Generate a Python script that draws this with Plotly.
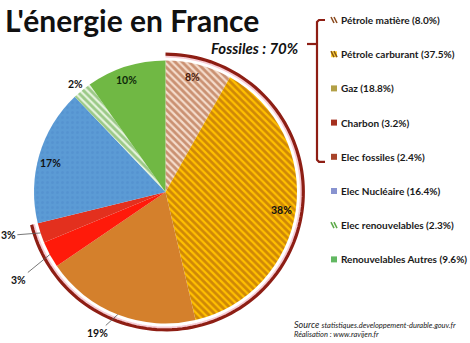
import math
import plotly.graph_objects as go

# ---------------- data ----------------
labels = ["Pétrole matière", "Pétrole carburant", "Gaz", "Charbon", "Elec fossiles",
          "Elec Nucléaire", "Elec renouvelables", "Renouvelables Autres"]
values = [8.0, 37.5, 18.8, 3.2, 2.4, 16.4, 2.3, 9.6]
pct_text = ["8%", "38%", "19%", "3%", "3%", "17%", "2%", "10%"]
is_fossil = [True, True, True, True, True, False, False, False]
fossil_text = "Fossiles : 70%"
title_text = "L'énergie en France"
source_word = "Source"
source_url = "statistiques.developpement-durable.gouv.fr"
credit_text = "Réalisation : www.ravijen.fr"

# ---------------- styles ----------------
W, H = 470, 343
CX, CY, R = 165.5, 192.0, 131.5          # pie centre / radius in pixels
slice_colors = ["#F4DCCB", "#FFC000", "#D4802C", "#FF1A0A", "#E3301E",
                "#5B9BD5", "#E6F3DD", "#70B844"]
pat_shapes = ["\\", "\\", "", "", "", ".", "\\", ""]
pat_fg = ["#A0461A", "#A0500E", "#D4802C", "#FF1A0A", "#E3301E",
          "#4F8CCB", "#4FA032", "#70B844"]
pat_solidity = [0.55, 0.55, 0.3, 0.3, 0.3, 0.3, 0.55, 0.3]
label_colors = ["#4A1A0A", "#111111", "#111111", "#111111", "#111111",
                "#111111", "#111111", "#0E2A0A"]
# label placement: radius factor and angular tweak (deg) per slice
label_rf = [0.9, 0.89, 1.19, 1.3, 1.24, 0.9, 1.07, 0.9]
label_dt = [-1.5, 1.0, 4.5, -2.5, 2.7, -2.0, -0.5, -1.8]
leader = [False, False, True, True, True, False, False, False]
legend_marker_colors = ["#FFFFFF", "#FFD23C", "#B2A046", "#A5301E", "#A8442A",
                        "#8893D0", "#FFFFFF", "#62B862"]
legend_marker_lines = ["#8A4A1E", "#8A5A10", None, None, None, None, "#5DAA4A", None]
bracket_color = "#8E1E14"


def to_paper(x, y):
    return x / W, 1 - y / H


def pt(rf, theta_deg):
    t = math.radians(theta_deg)
    return CX + R * rf * math.sin(t), CY - R * rf * math.cos(t)


total = sum(values)
cum = [0.0]
for v in values:
    cum.append(cum[-1] + v)

fig = go.Figure()
fig.add_trace(go.Pie(
    labels=labels, values=values, sort=False, direction="clockwise", rotation=0,
    textinfo="none", hoverinfo="label+percent", showlegend=False,
    domain=dict(x=[(CX - R) / W, (CX + R) / W], y=[1 - (CY + R) / H, 1 - (CY - R) / H]),
    marker=dict(colors=slice_colors, line=dict(width=0),
                pattern=dict(shape=pat_shapes, fgcolor=pat_fg, fillmode="overlay",
                             size=5, solidity=pat_solidity)),
))

annotations = []
shapes = []


def ann(x, y, text, size, color="#111111", xanchor="center", **kw):
    xp, yp = to_paper(x, y)
    d = dict(x=xp, y=yp, xref="paper", yref="paper", xanchor=xanchor, yanchor="middle",
             text=text, showarrow=False, font=dict(family="Lato", size=size, color=color))
    d.update(kw)
    annotations.append(d)


# percentage labels
for i, txt in enumerate(pct_text):
    mid = 360 * (cum[i] + values[i] / 2) / total
    lx, ly = pt(label_rf[i], mid + label_dt[i])
    if leader[i]:
        ex, ey = pt(1.0, mid)
        ann(ex, ey, "<b>" + txt + "</b>", 10.5, label_colors[i], showarrow=True,
            arrowhead=0, arrowwidth=0.8, arrowcolor="#555555",
            ax=lx - ex, ay=ly - ey, standoff=0)
    else:
        ann(lx, ly, "<b>" + txt + "</b>", 10.5, label_colors[i])

# fossil arc
fossil_total = sum(v for v, f in zip(values, is_fossil) if f)
end_theta = 360 * fossil_total / total
for rf, col, wd in [(1.03, "#F7CCD4", 2.0), (1.048, bracket_color, 3.2)]:
    pts = []
    n = 120
    for k in range(n + 1):
        th = end_theta * k / n
        x, y = pt(rf, th)
        xp, yp = to_paper(x, y)
        pts.append(f"{xp:.5f},{yp:.5f}")
    shapes.append(dict(type="path", xref="paper", yref="paper",
                       path="M" + " L".join(pts), line=dict(color=col, width=wd)))

# title & fossil text
ann(3, 20, "<b>" + title_text + "</b>", 30, xanchor="left")
ann(301, 48, "<b><i>" + fossil_text + "</i></b>", 15, xanchor="right")

# custom legend
y0, dy = 20.0, 34.2
for i, lab in enumerate(labels):
    yy = y0 + i * dy
    ann(339, yy, f"<b>{lab} ({values[i]:.1f}%)</b>", 10, "#1A1A1A", xanchor="left")
    x0p, y0p = to_paper(331, yy - 3)
    x1p, y1p = to_paper(337, yy + 3)
    shapes.append(dict(type="rect", xref="paper", yref="paper", x0=x0p, x1=x1p,
                       y0=y1p, y1=y0p, fillcolor=legend_marker_colors[i],
                       line=dict(width=0)))
    if legend_marker_lines[i]:
        for off in (0, 3):
            a = to_paper(331 + off, yy - 3)
            b = to_paper(331 + off + 3, yy + 3)
            shapes.append(dict(type="line", xref="paper", yref="paper",
                               x0=a[0], y0=a[1], x1=b[0], y1=b[1],
                               line=dict(color=legend_marker_lines[i], width=1.5)))

# bracket for fossil entries
n_fossil = sum(is_fossil)
top_y = y0
bot_y = y0 + (n_fossil - 1) * dy + 5
bx = 317
br_pts = [(325, top_y), (319, top_y), (bx, top_y + 2), (bx, bot_y - 2), (319, bot_y), (325, bot_y)]
path = "M" + " L".join("{:.5f},{:.5f}".format(*to_paper(x, y)) for x, y in br_pts)
shapes.append(dict(type="path", xref="paper", yref="paper", path=path,
                   line=dict(color=bracket_color, width=2.2)))
a = to_paper(bx, 44)
b = to_paper(307, 44)
shapes.append(dict(type="line", xref="paper", yref="paper", x0=a[0], y0=a[1],
                   x1=b[0], y1=b[1], line=dict(color=bracket_color, width=2.2)))

# source lines
ann(292, 324, "<i>" + source_word + "</i> <i><span style='font-size:7.5px'>"
    + source_url + "</span></i>", 9, "#222222", xanchor="left")
ann(292, 334, "<i>" + credit_text + "</i>", 7.5, "#222222", xanchor="left")

fig.update_layout(width=W, height=H, margin=dict(l=0, r=0, t=0, b=0),
                  paper_bgcolor="white", plot_bgcolor="white",
                  annotations=annotations, shapes=shapes)
fig.write_html("out.html")
